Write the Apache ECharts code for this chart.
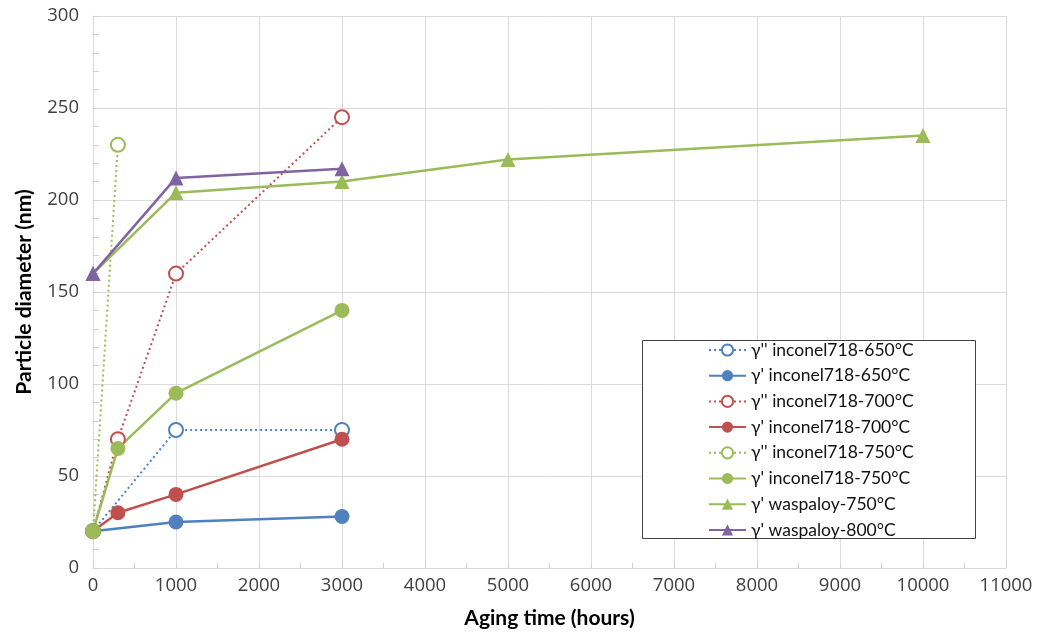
<!DOCTYPE html>
<html>
<head>
<meta charset="utf-8">
<script src="https://cdn.jsdelivr.net/npm/echarts@6/dist/echarts.min.js"></script>
<style>html,body{margin:0;padding:0;background:#fff}#c{width:1039px;height:635px}</style>
</head>
<body>
<div id="c"></div>
<script>
// Data
var seriesNames = [
  "γ'' inconel718-650°C",
  "γ' inconel718-650°C",
  "γ'' inconel718-700°C",
  "γ' inconel718-700°C",
  "γ'' inconel718-750°C",
  "γ' inconel718-750°C",
  "γ' waspaloy-750°C",
  "γ' waspaloy-800°C"
];
var gpp650 = [[0, 20], [1000, 75], [3000, 75]];
var gp650 = [[0, 20], [1000, 25], [3000, 28]];
var gpp700 = [[0, 20], [300, 70], [1000, 160], [3000, 245]];
var gp700 = [[0, 20], [300, 30], [1000, 40], [3000, 70]];
var gpp750 = [[0, 20], [300, 230]];
var gp750 = [[0, 20], [300, 65], [1000, 95], [3000, 140]];
var wasp750 = [[0, 160], [1000, 204], [3000, 210], [5000, 222], [10000, 235]];
var wasp800 = [[0, 160], [1000, 212], [3000, 217]];
var xTicks = { min: 0, max: 11000, step: 1000 };
var yTicks = { min: 0, max: 300, step: 50 };

var BLUE = '#4F81BD', RED = '#C0504D', GREEN = '#9BBB59', PURPLE = '#8064A2';

function dotted(name, data, color) {
  return {
    name: name, type: 'line', data: data,
    symbol: 'emptyCircle', symbolSize: 14,
    lineStyle: { color: color, width: 2, type: [2, 3] },
    itemStyle: { color: color, borderColor: color, borderWidth: 1.2 },
    emphasis: { disabled: true }
  };
}
function solid(name, data, color, sym) {
  return {
    name: name, type: 'line', data: data,
    symbol: sym, symbolSize: 15,
    lineStyle: { color: color, width: 2.5 },
    itemStyle: { color: color, borderWidth: 0 },
    emphasis: { disabled: true }
  };
}

var chart = echarts.init(document.getElementById('c'));
var axisLabelStyle = { color: '#404040', fontSize: 18.5, fontFamily: 'Open Sans' };
var option = {
  animation: false,
  backgroundColor: '#fff',
  grid: { left: 93, right: 33, top: 16, bottom: 67, containLabel: false },
  xAxis: {
    type: 'value', min: xTicks.min, max: xTicks.max, interval: xTicks.step,
    name: 'Aging time (hours)', nameLocation: 'middle', nameGap: 40,
    nameTextStyle: { fontFamily: 'Lato', fontWeight: 'bold', fontSize: 21, color: '#000' },
    axisLine: { show: true, lineStyle: { color: '#d9d9d9', width: 1 } },
    axisTick: { show: true, inside: true, length: 5, lineStyle: { color: '#d0d0d0' } },
    minorTick: { show: true, splitNumber: 2, length: 5, lineStyle: { color: '#d0d0d0' } },
    axisLabel: Object.assign({ margin: 8, formatter: function (v) { return String(v); } }, axisLabelStyle),
    splitLine: { show: true, lineStyle: { color: '#dcdcdc', width: 1 } }
  },
  yAxis: {
    type: 'value', min: yTicks.min, max: yTicks.max, interval: yTicks.step,
    name: 'Particle diameter (nm)', nameLocation: 'middle', nameGap: 58, nameRotate: 90,
    nameTextStyle: { fontFamily: 'Lato', fontWeight: 'bold', fontSize: 21, color: '#000' },
    axisLine: { show: true, lineStyle: { color: '#d9d9d9', width: 1 } },
    axisTick: { show: true, inside: true, length: 6, lineStyle: { color: '#d0d0d0' } },
    minorTick: { show: true, splitNumber: 5, length: 6, lineStyle: { color: '#d0d0d0' } },
    axisLabel: Object.assign({ margin: 14, formatter: function (v) { return String(v); } }, axisLabelStyle),
    splitLine: { show: true, lineStyle: { color: '#dcdcdc', width: 1 } }
  },
  graphic: [{
    type: 'rect', z: 3,
    shape: { x: 642.5, y: 340.5, width: 333, height: 198 },
    style: { fill: '#fff', stroke: '#404040', lineWidth: 1 }
  }],
  legend: {
    orient: 'vertical', left: 708, top: 341, z: 5,
    itemWidth: 37, itemHeight: 14, itemGap: 7.7,
    selectedMode: false,
    textStyle: { fontFamily: 'Lato', fontSize: 17.5, color: '#111' },
    padding: 0,
    data: seriesNames
  },
  series: [
    dotted(seriesNames[0], gpp650, BLUE),
    solid(seriesNames[1], gp650, BLUE, 'circle'),
    dotted(seriesNames[2], gpp700, RED),
    solid(seriesNames[3], gp700, RED, 'circle'),
    dotted(seriesNames[4], gpp750, GREEN),
    solid(seriesNames[5], gp750, GREEN, 'circle'),
    solid(seriesNames[6], wasp750, GREEN, 'triangle'),
    solid(seriesNames[7], wasp800, PURPLE, 'triangle')
  ]
};
chart.setOption(option);
</script>
</body>
</html>
